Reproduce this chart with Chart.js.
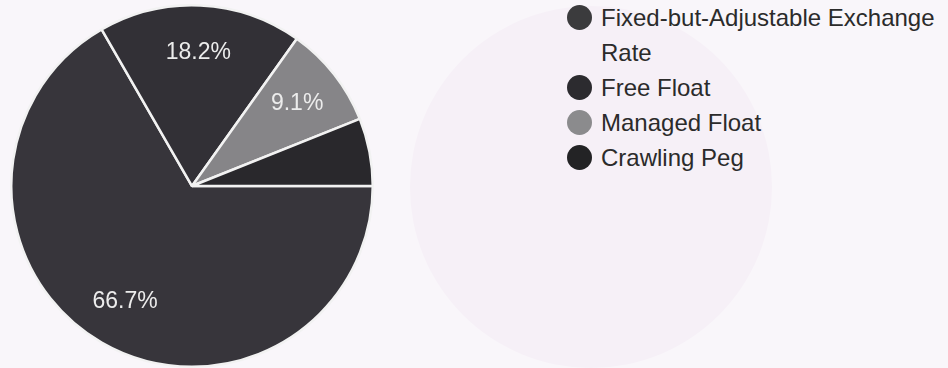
<!DOCTYPE html>
<html>
<head>
<meta charset="utf-8">
<script src="https://cdn.jsdelivr.net/npm/chart.js@4.4.1/dist/chart.umd.min.js"></script>
<style>
  html, body { margin: 0; padding: 0; }
  body { width: 948px; height: 368px; background: #f9f6fa; position: relative; overflow: hidden;
         font-family: "Liberation Sans", Arial, sans-serif; }
  #blob { position: absolute; left: 410px; top: 6px; width: 362px; height: 362px; border-radius: 50%;
          background: #f6f0f7; }
  #pieWrap { position: absolute; left: 10px; top: 4px; width: 364px; height: 364px; }
  #legend { position: absolute; left: 567px; top: 0px; width: 381px; }
  .item { position: relative; padding-left: 34px; font-size: 24px; line-height: 35px; color: #2b2b2b; }
  .dot { position: absolute; left: 0; top: 5px; width: 25px; height: 25px; border-radius: 50%; }
</style>
</head>
<body>
<div id="blob"></div>
<div id="pieWrap"><canvas id="c" width="364" height="364"></canvas></div>
<div id="legend"></div>
<script>
const categories = ["Fixed-but-Adjustable Exchange Rate", "Free Float", "Managed Float", "Crawling Peg"];
const counts = [22, 6, 3, 2];
const sliceColors = ["#37353b", "#323036", "#868588", "#29282c"];
const legendColors = ["#3b3b3d", "#2c2b2f", "#8b8b8d", "#232325"];

const total = counts.reduce((a, b) => a + b, 0);

const sliceLabels = {
  id: 'sliceLabels',
  afterDatasetsDraw(chart) {
    const ctx = chart.ctx;
    const meta = chart.getDatasetMeta(0);
    ctx.save();
    ctx.fillStyle = '#ececec';
    ctx.font = '23px "Liberation Sans", Arial, sans-serif';
    ctx.textAlign = 'center';
    ctx.textBaseline = 'middle';
    meta.data.forEach((arc, i) => {
      const v = counts[i];
      const pct = v / total * 100;
      if (pct < 8) return;
      const p = arc.getProps(['x', 'y', 'startAngle', 'endAngle', 'outerRadius'], true);
      const mid = (p.startAngle + p.endAngle) / 2;
      const r = p.outerRadius * 0.74;
      ctx.fillText(pct.toFixed(1) + '%', p.x + Math.cos(mid) * r, p.y + Math.sin(mid) * r);
    });
    ctx.restore();
  }
};

new Chart(document.getElementById('c'), {
  type: 'pie',
  data: {
    labels: categories,
    datasets: [{
      data: counts,
      backgroundColor: sliceColors,
      borderColor: '#f2f2f2',
      borderWidth: 2.5
    }]
  },
  options: {
    responsive: false,
    animation: false,
    rotation: 90,
    layout: { padding: 0 },
    plugins: { legend: { display: false }, tooltip: { enabled: false } }
  },
  plugins: [sliceLabels]
});

const legend = document.getElementById('legend');
categories.forEach((name, i) => {
  const d = document.createElement('div');
  d.className = 'item';
  const dot = document.createElement('span');
  dot.className = 'dot';
  dot.style.background = legendColors[i];
  d.appendChild(dot);
  d.appendChild(document.createTextNode(name));
  legend.appendChild(d);
});
</script>
</body>
</html>
